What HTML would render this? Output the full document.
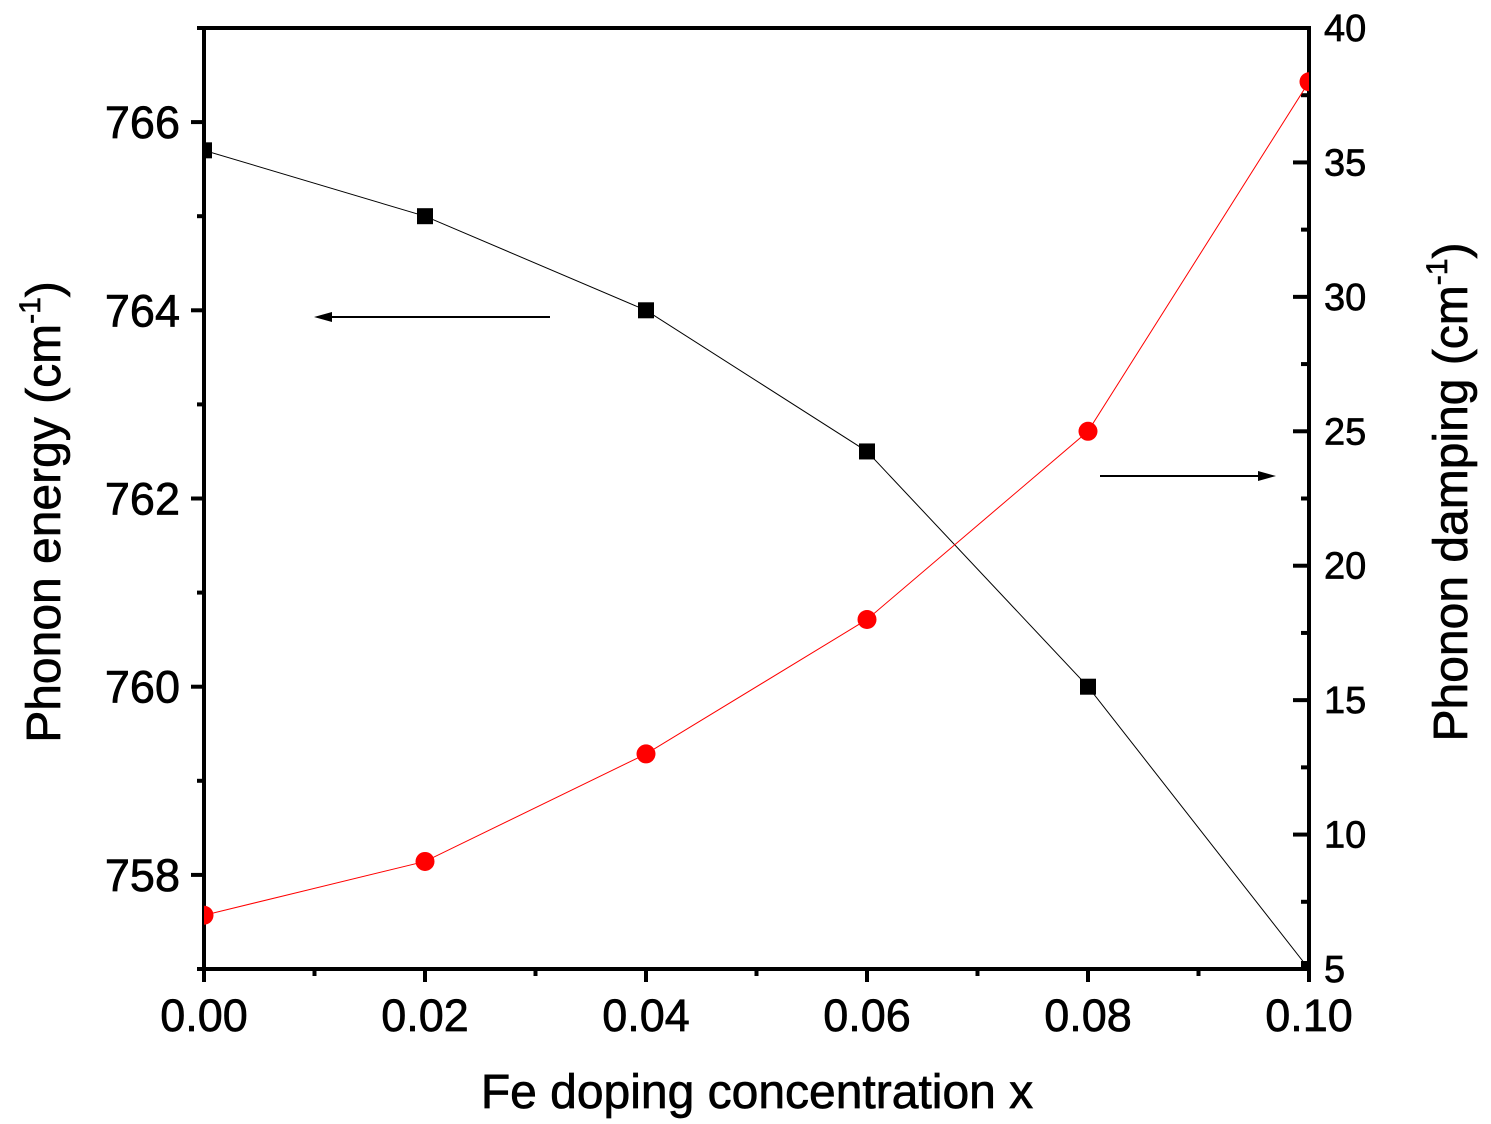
<!DOCTYPE html>
<html><head><meta charset="utf-8"><style>
body{margin:0;background:#fff}
svg{display:block;font-family:"Liberation Sans",Arial,sans-serif}
text{stroke:#000;stroke-width:0.7}
</style></head><body>
<svg id="chart" width="1491" height="1124" viewBox="0 0 1491 1124">
<defs><clipPath id="plotclip"><rect x="204" y="28" width="1105" height="941"/></clipPath></defs>
<g id="axes"></g>
<g id="series" clip-path="url(#plotclip)"></g>
<g id="labels"></g>
</svg>
<script>
const xValues=[0,0.02,0.04,0.06,0.08,0.10];
const energyValues=[765.7,765,764,762.5,760,757];
const dampingValues=[7,9,13,18,25,38];
const xTicks=["0.00","0.02","0.04","0.06","0.08","0.10"];
const leftTicks=[758,760,762,764,766];
const rightTicks=[5,10,15,20,25,30,35,40];

const L=204,R=1309,T=28,B=969;
const xs=v=>L+(v-0)/(0.1)*(R-L);
const yl=v=>B-(v-757)/(767-757)*(B-T);
const yr=v=>B-(v-5)/(40-5)*(B-T);
const NS="http://www.w3.org/2000/svg";
function mk(parent,tag,attrs){const e=document.createElementNS(NS,tag);for(const k in attrs)e.setAttribute(k,attrs[k]);document.getElementById(parent).appendChild(e);return e;}

let e;
e=mk('axes','rect',{x:L,y:T,width:R-L,height:B-T,fill:'none',stroke:'#000','stroke-width':4});



for(let i=0;i<=10;i++){const v=i*0.01;const x=xs(v);const major=i%2===0;
 e=mk('axes','line',{x1:x,y1:B,x2:x,y2:B+(major?13:7),stroke:'#000','stroke-width':4});
 
 }
xTicks.forEach((t,i)=>{e=mk('labels','text',{x:xs(xValues[i]),y:1031,'font-size':45,'text-anchor':'middle'});e.textContent=t;
 
 });

for(let v=757;v<=767;v++){const y=yl(v);const major=v%2===0;
 e=mk('axes','line',{x1:L-(major?13:7),y1:y,x2:L,y2:y,stroke:'#000','stroke-width':4});
 
 }
leftTicks.forEach(t=>{e=mk('labels','text',{x:180,y:yl(t)+16,'font-size':45,'text-anchor':'end'});e.textContent=t;
 
 });

for(let v=5;v<=40;v+=2.5){const y=yr(v);const major=v%5===0;
 e=mk('axes','line',{x1:R-(major?16:8),y1:y,x2:R,y2:y,stroke:'#000','stroke-width':4});
 
 }
rightTicks.forEach(t=>{e=mk('labels','text',{x:1324,y:yr(t)+13,'font-size':38});e.textContent=t;
 
 });

e=mk('series','polyline',{points:xValues.map((x,i)=>xs(x)+','+yl(energyValues[i])).join(' '),fill:'none',stroke:'#000','stroke-width':1});


e=mk('series','polyline',{points:xValues.map((x,i)=>xs(x)+','+yr(dampingValues[i])).join(' '),fill:'none',stroke:'#f00','stroke-width':1});


xValues.forEach((x,i)=>{
 e=mk('series','rect',{x:xs(x)-8,y:yl(energyValues[i])-8,width:16,height:16,fill:'#000'});
 
 
 e=mk('series','circle',{cx:xs(x),cy:yr(dampingValues[i]),r:9.5,fill:'#f00'});
 
 
});

e=mk('labels','line',{x1:550,y1:317,x2:325,y2:317,stroke:'#000','stroke-width':2});


e=mk('labels','polygon',{points:'314,317 332,312 332,322',fill:'#000'});


e=mk('labels','line',{x1:1100,y1:476,x2:1265,y2:476,stroke:'#000','stroke-width':2});


e=mk('labels','polygon',{points:'1276,476 1258,471 1258,481',fill:'#000'});


</script>
<svg style="position:absolute;left:0;top:0" width="1491" height="1124" font-family="Liberation Sans, Arial, sans-serif">
<text x="757" y="1108" font-size="48" text-anchor="middle">Fe doping concentration x</text>
<text transform="translate(60,512) rotate(-90)" font-size="48" text-anchor="middle">Phonon energy (cm<tspan font-size="30" dy="-20">-1</tspan><tspan dy="20">)</tspan></text>
<text transform="translate(1467,492) rotate(-90)" font-size="48" text-anchor="middle">Phonon damping (cm<tspan font-size="30" dy="-20">-1</tspan><tspan dy="20">)</tspan></text>
</svg>
</body></html>
